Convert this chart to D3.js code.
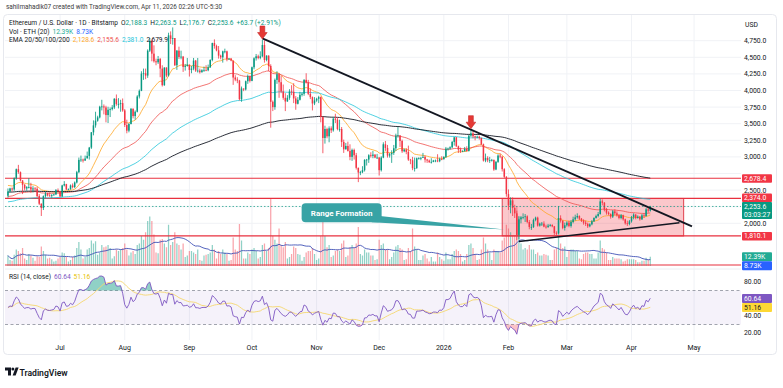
<!DOCTYPE html>
<html>
<head>
<meta charset="utf-8">
<script src="https://cdn.jsdelivr.net/npm/d3@7"></script>
<style>
  body { margin: 0; background: #fff; }
  svg { display: block; font-family: Roboto, "Open Sans", sans-serif; }
</style>
</head>
<body>
<div id="chart"></div>
<script>
const W = 783, H = 388;

// ETH/USD daily, Bitstamp, 2025-06-06 .. 2026-04-10 (one row per month)
const firstDay = Date.UTC(2025, 5, 6);
const firstOpen = 2415;
const closes = [
  2480,2525,2510,2680,2815,2770,2645,2580,2525,2545,2545,2510,2525,2520,2410,2295,2230,2410,2450,2420,2415,2425,2435,2500,2485,
  2405,2570,2590,2510,2515,2570,2545,2615,2770,2955,2960,2945,2975,3015,3140,3370,3475,3545,3595,3755,3760,3745,3630,3710,3720,3745,3875,3795,3795,3810,3700,
  3480,3395,3495,3725,3615,3680,3910,3995,4255,4260,4225,4600,4750,4555,4440,4425,4475,4330,4080,4345,4225,4830,4780,4790,4380,4600,4505,4510,4355,4370,4390,
  4310,4330,4450,4300,4300,4275,4305,4310,4305,4350,4460,4715,4670,4605,4525,4500,4590,4590,4470,4480,4450,4195,4165,4150,3870,4030,4015,4140,4215,4145,
  4350,4485,4515,4490,4515,4685,4460,4525,4370,3830,3750,4160,4245,4125,3985,3890,3835,3890,3985,3980,3880,3800,3860,3935,3950,4160,4120,3950,3900,3805,3850,
  3875,3900,3600,3285,3420,3310,3430,3400,3575,3560,3420,3420,3225,3115,3165,3090,3000,3105,3025,2835,2765,2770,2800,2955,2960,3025,3015,3035,2990,2990,
  2800,2990,3190,3135,3020,3040,3060,3130,3320,3325,3240,3085,3110,3075,2960,2950,2830,2830,2980,2980,2985,3000,2960,2945,2920,2925,2945,2945,2935,2970,2965,
  3000,3125,3125,3145,3225,3295,3160,3110,3085,3085,3120,3090,3320,3355,3310,3295,3305,3285,3190,2945,2985,2950,2950,2955,2810,2925,3020,3005,2815,2700,2440,
  2270,2345,2230,2150,1825,2060,2090,2095,2105,2020,1945,1945,2050,2085,1965,1995,1995,1950,1945,1965,1975,1955,1855,1850,2080,2040,1930,1970,
  2010,1960,2020,2060,2090,2110,2070,2040,2010,1990,1955,1985,2030,2080,2110,2140,2330,2310,2210,2160,2140,2100,2180,2150,2120,2080,2120,2060,2000,1990,2030,
  2090,2130,2080,2100,2060,2120,2110,2210,2189.9,2253.6
];
const highs = [
  2525,2535,2540,2690,2825,2880,2780,2650,2590,2560,2680,2610,2560,2545,2550,2440,2300,2420,2480,2460,2465,2440,2445,2515,2525,
  2490,2580,2635,2595,2525,2585,2600,2630,2790,2990,3020,2975,3020,3080,3150,3375,3550,3680,3620,3770,3860,3790,3770,3755,3745,3780,3885,3940,3885,3860,3880,
  3720,3560,3510,3735,3730,3700,3930,4015,4290,4330,4330,4620,4790,4770,4680,4480,4520,4490,4380,4350,4350,4870,4890,4950,4790,4610,4660,4600,4520,4400,4490,
  4390,4370,4490,4460,4490,4330,4320,4360,4380,4390,4470,4720,4770,4690,4670,4540,4600,4630,4600,4490,4490,4450,4230,4200,4160,4060,4030,4150,4240,4225,
  4360,4500,4550,4540,4590,4760,4755,4530,4530,4395,3850,4180,4290,4265,4220,4090,3960,3930,4020,4080,4110,3915,3900,3980,3970,4170,4260,4160,4030,3910,3900,
  3890,3920,3910,3610,3470,3440,3460,3460,3600,3650,3600,3560,3450,3260,3210,3230,3190,3125,3125,3060,2840,2790,2860,2965,2970,3040,3070,3090,3040,3045,
  3000,3010,3220,3240,3180,3060,3100,3180,3350,3450,3320,3260,3125,3130,3170,2970,3000,2990,2990,2995,3000,3060,3020,2970,2960,2980,2955,2960,3040,2990,3010,
  3010,3150,3140,3160,3240,3300,3300,3170,3140,3100,3150,3160,3330,3405,3390,3320,3320,3320,3290,3200,3050,3010,3000,2970,2960,2940,3040,3050,3010,2830,2710,
  2510,2390,2390,2280,2190,2110,2110,2150,2140,2120,2050,1990,2070,2100,2100,2010,2020,2030,1980,1990,1990,1985,1960,1880,2260,2120,2045,2010,
  2030,2040,2050,2100,2130,2150,2120,2080,2060,2040,2010,2000,2050,2090,2130,2170,2370,2360,2320,2230,2180,2150,2200,2210,2180,2140,2140,2130,2070,2040,2050,
  2110,2150,2140,2120,2110,2140,2150,2230,2230,2263.5
];
const lows = [
  2385,2470,2480,2490,2655,2745,2630,2440,2495,2490,2525,2460,2465,2490,2390,2275,2110,2200,2385,2405,2400,2385,2415,2425,2475,
  2395,2395,2555,2500,2495,2505,2525,2530,2600,2755,2925,2915,2940,2985,2960,3120,3325,3440,3530,3580,3700,3640,3520,3510,3600,3700,3720,3770,3730,3680,3680,
  3450,3355,3370,3490,3580,3560,3670,3880,3990,4160,4170,4190,4580,4440,4420,4380,4400,4200,4060,4070,4200,4210,4700,4690,4370,4310,4475,4470,4280,4300,4360,
  4210,4260,4305,4280,4270,4255,4270,4280,4290,4290,4340,4440,4630,4590,4480,4470,4420,4560,4440,4460,4440,4085,4140,4110,3850,3830,3990,4000,4100,4120,
  4140,4320,4450,4470,4470,4500,4420,4440,4290,3440,3690,3710,4100,3890,3960,3860,3690,3830,3860,3930,3810,3710,3790,3850,3910,3920,4105,3930,3870,3700,3780,
  3830,3810,3520,3055,3200,3280,3220,3360,3380,3510,3400,3380,3150,3060,3110,3080,2950,2940,2960,2810,2620,2725,2755,2780,2870,2910,2990,2980,2980,2970,
  2720,2780,2980,3090,2990,2990,2910,3030,3090,3290,3150,3060,3070,3040,2940,2890,2800,2780,2820,2960,2950,2990,2915,2910,2910,2900,2920,2920,2920,2920,2950,
  2960,2985,3095,3110,3130,3170,3150,3060,3060,3075,3080,3080,3080,3300,3280,3250,3280,3260,3180,2930,2920,2920,2910,2930,2790,2800,2910,2980,2780,2680,2400,
  2200,2150,2110,2080,1745,1760,2000,2060,2020,2000,1910,1900,1930,2030,1950,1950,1960,1940,1920,1930,1950,1940,1820,1810,1840,2010,1910,1890,
  1950,1940,1935,2000,2040,2070,2050,2020,1980,1960,1930,1940,1970,2020,2070,2090,2130,2270,2180,2130,2120,2070,2080,2120,2100,2060,2060,2040,1980,1960,1970,
  2010,2060,2060,2070,2040,2050,2080,2100,2160,2176.7
];
// volume, thousands of ETH
const volumes = [
  14,8,7,15,22,20,17,24,10,8,16,14,11,7,13,12,26,20,15,10,11,9,6,7,10,
  12,18,17,12,6,8,12,14,24,32,22,10,12,22,24,34,30,33,15,18,28,25,26,28,24,10,13,22,20,22,24,
  30,22,14,18,20,16,28,30,40,35,45,60,66,60,42,18,17,35,36,30,25,55,28,32,45,30,28,22,30,12,14,
  20,20,18,16,22,8,7,14,15,16,18,28,22,10,20,16,22,18,16,7,8,38,22,20,56,34,10,10,18,16,
  22,24,20,10,12,28,30,20,24,90,40,35,30,50,28,25,32,10,12,16,26,24,16,15,7,12,18,20,20,24,16,
  8,10,40,65,40,25,28,12,14,20,22,20,30,34,12,14,25,28,24,30,52,16,14,22,18,18,14,14,8,9,
  35,28,30,22,22,9,12,18,26,28,24,22,8,9,24,20,50,26,22,8,8,14,16,10,6,12,6,6,18,12,9,
  7,18,9,9,16,20,22,20,16,6,8,16,28,30,24,16,8,9,22,38,30,22,18,8,22,20,20,18,34,38,55,
  50,45,40,40,80,65,30,22,24,22,28,22,22,16,18,14,14,16,15,14,8,8,22,24,60,30,24,26,
  12,20,22,22,20,20,10,9,16,18,18,16,16,10,10,18,34,24,22,18,8,8,12,10,10,10,9,6,7,9,9,
  9,9,8,5,5,7,7,11,8,12.39
];

const emaLengths = [20, 50, 100, 200];
const emaStart = [2580, 2400, 2320, 2470];      // EMA values before the first bar
const emaColors = ['#ffa726', '#ef5350', '#26c6da', '#131722'];
const rsiSeed = [45, 45];                         // avg gain / avg loss before the first bar

const priceTicks = d3.range(2000, 4751, 250);
const rsiTicks = [20, 40, 60, 80];
const levels = [2678.4, 2374.0, 1810.1, 1372];
const levelShown = [true, true, true, false];
const rangeBox = { from: Date.UTC(2026, 0, 29), to: Date.UTC(2026, 3, 26), top: 2374.0, bottom: 1810.1 };
const resistance = [[Date.UTC(2025, 9, 6), 4785], [Date.UTC(2026, 3, 30), 1955]];
const support = [[Date.UTC(2026, 1, 6), 1725], [Date.UTC(2026, 3, 24), 2010]];
const arrows = [[Date.UTC(2025, 9, 6), 4775], [Date.UTC(2026, 0, 14), 3425]];
const callout = { text: 'Range Formation', at: [Date.UTC(2025, 10, 13), 2160], tip: [Date.UTC(2026, 0, 30), 1905] };

const headerText = 'sahilmahadik07 created with TradingView.com, Apr 11, 2026 02:26 UTC-5:30';
const ohlcText = ['2,188.3', '2,263.5', '2,176.7', '2,253.6', '+63.7 (+2.91%)'];
const volLegend = ['12.39K', '8.73K'];
const emaLegend = ['2,128.6', '2,155.6', '2,381.0', '2,679.9'];
const rsiLegend = [60.64, 51.16];
const countdown = '03:03:27';

// ---------- derived series
const days = closes.map((c, i) => new Date(firstDay + i * 864e5));
const candles = closes.map((c, i) => ({
  date: days[i], open: i ? closes[i - 1] : firstOpen, close: c, high: highs[i], low: lows[i], vol: volumes[i]
}));
const emas = emaLengths.map((n, k) => {
  const a = 2 / (n + 1);
  let e = emaStart[k];
  return closes.map(c => (e = e + a * (c - e)));
});
let ag = rsiSeed[0], al = rsiSeed[1];
const rsi = closes.map((c, i) => {
  if (i > 0) {
    const ch = c - closes[i - 1];
    ag = (ag * 13 + Math.max(ch, 0)) / 14;
    al = (al * 13 + Math.max(-ch, 0)) / 14;
  }
  return 100 - 100 / (1 + ag / al);
});
const sma = (arr, n) => arr.map((v, i) => d3.mean(arr.slice(Math.max(0, i - n + 1), i + 1)));
const rsiMa = sma(rsi, 14);
const volMa = sma(volumes, 20);

// ---------- layout
const pLeft = 5, pRight = 741, pTop = 15, mainBottom = 268, rsiBottom = 340;
const x = d3.scaleUtc()
  .domain([new Date(Date.UTC(2025, 5, 4, 14)), new Date(Date.UTC(2026, 4, 23, 12))])
  .range([pLeft, pRight]);
const y = d3.scaleLinear().domain([2000, 4750]).range([223.3, 40.7]);
const yVol = d3.scaleLinear().domain([0, 100]).range([266, 191]);
const yRsi = d3.scaleLinear().domain([20, 80]).range([333, 282]);
const step = x(days[1]) - x(days[0]);

const green = '#089981', red = '#f23645';

const svg = d3.select('#chart').append('svg').attr('width', W).attr('height', H);
svg.append('rect').attr('width', W).attr('height', H).attr('fill', '#fff');

const defs = svg.append('defs');
defs.append('clipPath').attr('id', 'clipMain').append('rect')
  .attr('x', pLeft).attr('y', pTop).attr('width', pRight - pLeft).attr('height', mainBottom - pTop);
defs.append('clipPath').attr('id', 'clipRsi').append('rect')
  .attr('x', pLeft).attr('y', mainBottom).attr('width', pRight - pLeft).attr('height', rsiBottom - mainBottom);

svg.append('text').attr('x', 6).attr('y', 9).attr('font-size', 6.4).attr('fill', '#3c3c3c').text(headerText);

svg.append('rect').attr('x', 3.5).attr('y', 14.5).attr('width', 773).attr('height', 340).attr('rx', 4)
  .attr('fill', 'none').attr('stroke', '#e6e8ee');

// grid
const months = d3.utcMonth.range(new Date(Date.UTC(2025, 6, 1)), x.domain()[1]);
svg.append('g').selectAll('line').data(months).join('line')
  .attr('x1', d => x(d)).attr('x2', d => x(d)).attr('y1', pTop).attr('y2', rsiBottom)
  .attr('stroke', '#f0f2f6');
svg.append('g').selectAll('line').data(priceTicks).join('line')
  .attr('x1', pLeft).attr('x2', pRight).attr('y1', d => y(d)).attr('y2', d => y(d))
  .attr('stroke', '#f0f2f6');
svg.append('line').attr('x1', pLeft).attr('x2', pRight).attr('y1', mainBottom + 1).attr('y2', mainBottom + 1)
  .attr('stroke', '#eceef2');

const main = svg.append('g').attr('clip-path', 'url(#clipMain)');

// range box and horizontal levels
main.append('rect')
  .attr('x', x(rangeBox.from)).attr('width', x(rangeBox.to) - x(rangeBox.from))
  .attr('y', y(rangeBox.top)).attr('height', y(rangeBox.bottom) - y(rangeBox.top))
  .attr('fill', 'rgba(242,54,69,0.28)').attr('stroke', '#e0404e').attr('stroke-width', 1);

// volume
main.append('g').selectAll('rect').data(candles).join('rect')
  .attr('x', d => x(d.date) - step * 0.3).attr('width', step * 0.6)
  .attr('y', d => yVol(d.vol)).attr('height', d => yVol(0) - yVol(d.vol))
  .attr('fill', d => d.close >= d.open ? 'rgba(8,153,129,0.45)' : 'rgba(242,54,69,0.45)');
main.append('path').datum(volMa)
  .attr('d', d3.line().x((v, i) => x(days[i])).y(v => yVol(v)))
  .attr('fill', 'none').attr('stroke', '#3f51b5').attr('stroke-width', 0.9);

main.append('g').selectAll('line').data(levels).join('line')
  .attr('x1', pLeft).attr('x2', pRight).attr('y1', d => y(d)).attr('y2', d => y(d))
  .attr('stroke', '#e8303f').attr('stroke-width', 1.2);

// EMAs
emas.forEach((s, k) => {
  main.append('path').datum(s)
    .attr('d', d3.line().x((v, i) => x(days[i])).y(v => y(v)))
    .attr('fill', 'none').attr('stroke', emaColors[k]).attr('stroke-width', k === 3 ? 1 : 0.9)
    .attr('opacity', 0.9);
});

// candles
const cg = main.append('g');
cg.selectAll('line').data(candles).join('line')
  .attr('x1', d => x(d.date)).attr('x2', d => x(d.date))
  .attr('y1', d => y(d.high)).attr('y2', d => y(d.low))
  .attr('stroke', d => d.close >= d.open ? green : red).attr('stroke-width', 0.8);
cg.selectAll('rect').data(candles).join('rect')
  .attr('x', d => x(d.date) - step * 0.36).attr('width', step * 0.72)
  .attr('y', d => y(Math.max(d.open, d.close)))
  .attr('height', d => Math.max(0.8, Math.abs(y(d.open) - y(d.close))))
  .attr('fill', d => d.close >= d.open ? green : red);

// last price line
main.append('line').attr('x1', pLeft).attr('x2', pRight)
  .attr('y1', y(closes[closes.length - 1])).attr('y2', y(closes[closes.length - 1]))
  .attr('stroke', green).attr('stroke-dasharray', '1.5,2').attr('opacity', 0.7);

// trend lines
const tl = d3.line().x(d => x(d[0])).y(d => y(d[1]));
main.append('path').attr('d', tl(resistance)).attr('stroke', '#131722').attr('stroke-width', 1.9).attr('fill', 'none');
main.append('path').attr('d', tl(support)).attr('stroke', '#131722').attr('stroke-width', 1.5).attr('fill', 'none');

// arrows
arrows.forEach(([d, p]) => {
  const ax = x(d), ay = y(p);
  main.append('path')
    .attr('d', `M${ax - 2.4},${ay - 13}h4.8v6.5h2.4l-4.8,6.5l-4.8,-6.5h2.4z`)
    .attr('fill', '#e53935').attr('stroke', '#c62828').attr('stroke-width', 0.6);
});

// callout
{
  const cx = x(callout.at[0]), cy = y(callout.at[1]);
  const tx = x(callout.tip[0]), ty = y(callout.tip[1]);
  const col = '#38a3a5';
  main.append('path')
    .attr('d', `M${cx + 36},${cy + 3} L${tx},${ty} L${cx + 30},${cy + 9.5}z`)
    .attr('fill', col);
  main.append('rect').attr('x', cx - 40).attr('y', cy - 9.5).attr('width', 80).attr('height', 19).attr('rx', 4)
    .attr('fill', col);
  main.append('text').attr('x', cx).attr('y', cy + 3).attr('text-anchor', 'middle')
    .attr('font-size', 8).attr('font-weight', 700).attr('fill', '#fff').text(callout.text);
}

// ---------- RSI pane
const rg = svg.append('g').attr('clip-path', 'url(#clipRsi)');
rg.append('rect').attr('x', pLeft).attr('width', pRight - pLeft)
  .attr('y', yRsi(70)).attr('height', yRsi(30) - yRsi(70)).attr('fill', 'rgba(126,87,194,0.08)');
[70, 30].forEach(v => rg.append('line').attr('x1', pLeft).attr('x2', pRight)
  .attr('y1', yRsi(v)).attr('y2', yRsi(v)).attr('stroke', '#8a8e99').attr('stroke-dasharray', '3,2.5').attr('stroke-width', 0.8));
rg.append('path').datum(rsi)
  .attr('d', d3.area().x((v, i) => x(days[i])).y0(yRsi(70)).y1(v => yRsi(Math.max(v, 70))))
  .attr('fill', 'rgba(8,153,129,0.45)');
rg.append('path').datum(rsi)
  .attr('d', d3.area().x((v, i) => x(days[i])).y0(yRsi(30)).y1(v => yRsi(Math.min(v, 30))))
  .attr('fill', 'rgba(242,54,69,0.3)');
rg.append('path').datum(rsiMa)
  .attr('d', d3.line().x((v, i) => x(days[i])).y(v => yRsi(v)))
  .attr('fill', 'none').attr('stroke', '#f5d76e').attr('stroke-width', 0.9);
rg.append('path').datum(rsi)
  .attr('d', d3.line().x((v, i) => x(days[i])).y(v => yRsi(v)))
  .attr('fill', 'none').attr('stroke', '#7e57c2').attr('stroke-width', 0.9);

// ---------- time axis
svg.append('g').selectAll('text').data(months).join('text')
  .attr('x', d => x(d)).attr('y', 349.5).attr('text-anchor', 'middle')
  .attr('font-size', 7).attr('fill', '#131722')
  .text(d => d.getUTCMonth() === 0 ? d3.utcFormat('%Y')(d) : d3.utcFormat('%b')(d));

// ---------- price axis
const fmt = d3.format(',.1f');

function resolve(items) {
  items.sort((a, b) => a.y - b.y);
  for (let i = 1; i < items.length; i++) {
    const a = items[i - 1], b = items[i];
    const o = (a.y + a.down) - (b.y - b.up);
    if (o > 0) {
      if (b.fixed && !a.fixed) {
        a.y -= o;
        for (let j = i - 1; j > 0; j--) {
          const o2 = (items[j - 1].y + items[j - 1].down) - (items[j].y - items[j].up);
          if (o2 > 0) items[j - 1].y -= o2;
        }
      } else b.y += o;
    }
  }
  return items;
}

const lastClose = closes[closes.length - 1];
const axisLabels = resolve([
  ...levels.map((v, i) => ({ v, text: [fmt(v)], y: y(v), up: 4, down: 4.5, fill: red, color: '#fff', show: levelShown[i] }))
    .filter(d => d.show),
  { text: [fmt(lastClose), countdown], y: y(lastClose), up: 4.5, down: 12.5, fill: green, color: '#fff', fixed: true },
  { text: [volLegend[0]], y: yVol(volumes[volumes.length - 1]), up: 4.5, down: 4.5, fill: '#22ab94', color: '#fff', fixed: true },
  { text: [volLegend[1]], y: yVol(volMa[volMa.length - 1]), up: 4.5, down: 4.5, fill: '#2962ff', color: '#fff' }
]).concat(resolve([
  { text: [rsiLegend[0].toFixed(2)], y: yRsi(rsiLegend[0]), up: 4.5, down: 4.5, fill: '#7e57c2', color: '#fff', fixed: true },
  { text: [rsiLegend[1].toFixed(2)], y: yRsi(rsiLegend[1]), up: 4.5, down: 4.5, fill: '#fdd835', color: '#131722' }
]));

// tick labels sit under the coloured boxes; a tick mostly covered by a box is dropped
const covered = ty => axisLabels.some(b => ty + 2 > b.y - b.up && ty - 2 < b.y + b.down);
svg.append('text').attr('x', 745).attr('y', 26.5).attr('font-size', 6.8).attr('fill', '#131722').text('USD');
svg.append('g').selectAll('text').data(priceTicks.filter(d => !covered(y(d)))).join('text')
  .attr('x', 744).attr('y', d => y(d) + 2.4).attr('font-size', 6.8).attr('fill', '#131722').text(d => fmt(d));
svg.append('g').selectAll('text').data(rsiTicks.filter(d => !covered(yRsi(d)))).join('text')
  .attr('x', 744).attr('y', d => yRsi(d) + 2.4).attr('font-size', 6.8).attr('fill', '#131722').text(d => d3.format('.2f')(d));

const lab = svg.append('g').selectAll('g').data(axisLabels).join('g');
lab.append('rect').attr('x', 742).attr('width', 30).attr('rx', 1)
  .attr('y', d => d.y - d.up).attr('height', d => d.up + d.down).attr('fill', d => d.fill);
lab.each(function (d) {
  d3.select(this).selectAll('text').data(d.text).join('text')
    .attr('x', 744).attr('y', (t, i) => d.y + 2.4 + i * 8)
    .attr('font-size', 6.8).attr('fill', d.color).text(t => t);
});

// ---------- legends
const legendRow = (yy, parts) => {
  const t = svg.append('text').attr('x', 9).attr('y', yy).attr('font-size', 6.6).attr('fill', '#131722');
  parts.forEach(([s, c, dx]) => t.append('tspan').attr('fill', c || '#131722').attr('dx', dx || 0).text(s));
};
legendRow(25, [['Ethereum / U.S. Dollar · 1D · Bitstamp'], ['O', null, 3], [ohlcText[0], green], ['H', null, 3], [ohlcText[1], green],
  ['L', null, 3], [ohlcText[2], green], ['C', null, 3], [ohlcText[3], green], [ohlcText[4], green, 3]]);
legendRow(33.5, [['Vol · ETH (20)'], [volLegend[0], '#22ab94', 3], [volLegend[1], '#2962ff', 3]]);
legendRow(42, [['EMA 20/50/100/200'], ...emaLegend.map((s, k) => [s, emaColors[k], 3])]);
{
  const t = svg.append('text').attr('x', 9).attr('y', 279).attr('font-size', 6.6).attr('fill', '#131722');
  t.append('tspan').text('RSI (14, close)');
  t.append('tspan').attr('dx', 3).attr('fill', '#7e57c2').text(rsiLegend[0].toFixed(2));
  t.append('tspan').attr('dx', 3).attr('fill', '#e6c200').text(rsiLegend[1].toFixed(2));
}

// ---------- TradingView mark
const logo = svg.append('g').attr('fill', '#131722');
logo.append('path').attr('d', 'M5,367.5h6v8h-3v-5h-3z');
logo.append('circle').attr('cx', 12.9).attr('cy', 369).attr('r', 1.5);
logo.append('path').attr('d', 'M12.6,375.5l3,-8h3l-3,8z');
svg.append('text').attr('x', 19.5).attr('y', 375.5).attr('font-size', 8.6).attr('font-weight', 600)
  .attr('fill', '#131722').text('TradingView');
</script>
</body>
</html>
